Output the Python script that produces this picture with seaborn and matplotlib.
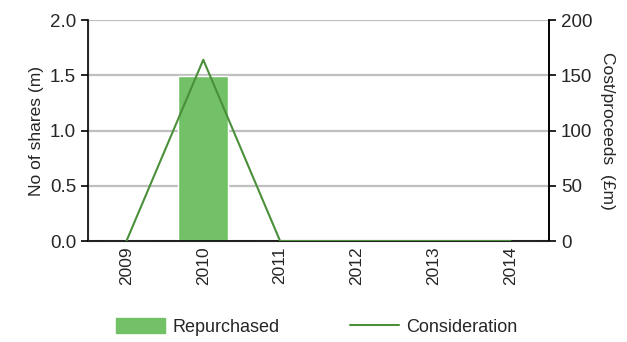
import matplotlib
matplotlib.use("Agg")
import matplotlib.pyplot as plt
import seaborn as sns
import pandas as pd
from matplotlib.lines import Line2D
from matplotlib.patches import Patch

years = ["2009", "2010", "2011", "2012", "2013", "2014"]
repurchased = [0.0, 1.49, 0.0, 0.0, 0.0, 0.0]
consideration = [0.0, 164.0, 0.0, 0.0, 0.0, 0.0]

sns.set_style("white")
plt.rcParams['font.family'] = ['Liberation Sans Narrow', 'Liberation Sans', 'DejaVu Sans']
plt.rcParams['font.size'] = 12.5

bar_color = "#73C167"
line_color = "#4A8F3A"

df = pd.DataFrame({"year": years, "rep": repurchased, "cons": consideration})

fig = plt.figure(figsize=(6.27, 3.42), dpi=100)
ax = fig.add_axes([0.1404, 0.2953, 0.7352, 0.6462])
sns.barplot(data=df, x="year", y="rep", color=bar_color, width=0.65, ax=ax,
            saturation=1, zorder=2)
ax.set_ylim(0, 2.0)
ax.set_yticks([0, 0.5, 1.0, 1.5, 2.0])
ax.set_yticklabels(["0.0", "0.5", "1.0", "1.5", "2.0"], fontsize=13.5)
ax.set_xlim(-0.5, 5.5)
ax.yaxis.grid(True, color="#BFBFBF", linewidth=1.6, zorder=0)
ax.set_axisbelow(True)
ax.set_xlabel("")
ax.set_ylabel("No of shares (m)", fontsize=12.5)
ax.set_xticks(range(len(years)))
ax.set_xticklabels(years, rotation=90, fontsize=12.5)
ax.tick_params(axis="x", length=0, pad=4)
# boundary ticks
ax.set_xticks([i - 0.5 for i in range(len(years) + 1)], minor=True)
ax.tick_params(axis="x", which="minor", length=5, width=1.2, direction="out", color="black")
ax.tick_params(axis="y", length=5, width=1.2, direction="out", color="black", left=True)
for s in ["top"]:
    ax.spines[s].set_visible(False)
for s in ["left", "bottom", "right"]:
    ax.spines[s].set_color("black")
    ax.spines[s].set_linewidth(1.2)

ax2 = ax.twinx()
sns.lineplot(x=list(range(len(years))), y=consideration, color=line_color,
             linewidth=1.5, ax=ax2, zorder=3)
ax2.set_ylim(0, 200)
ax2.set_yticks([0, 50, 100, 150, 200])
ax2.set_yticklabels(["0", "50", "100", "150", "200"], fontsize=13.5)
ax2.set_ylabel("Cost/proceeds  (£m)", rotation=270, labelpad=16, fontsize=12.5)
ax2.tick_params(axis="y", length=5, width=1.2, direction="out", color="black", right=True)
ax2.spines["top"].set_visible(False)
ax2.spines["right"].set_color("black")
ax2.spines["right"].set_linewidth(1.2)
ax2.set_xlim(-0.5, 5.5)

handles = [Patch(facecolor=bar_color, edgecolor=bar_color, label="Repurchased"),
           Line2D([0], [0], color=line_color, linewidth=1.5, label="Consideration")]
fig.legend(handles=handles, loc="center", bbox_to_anchor=(0.505, 0.044), ncol=2,
           frameon=False, fontsize=13, handlelength=2.7, handleheight=0.9,
           columnspacing=3.9, handletextpad=0.4)

fig.savefig("out.png", dpi=100)
